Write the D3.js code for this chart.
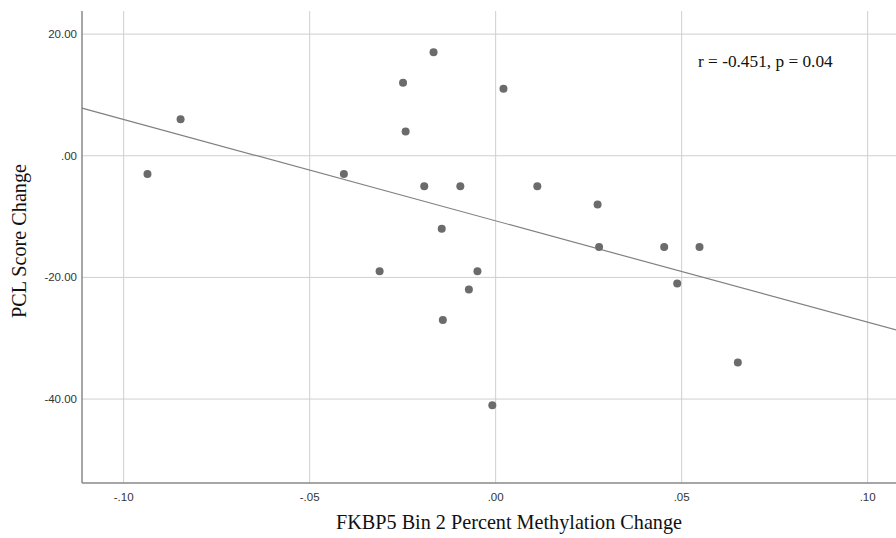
<!DOCTYPE html>
<html lang="en">
<head>
    <meta charset="UTF-8">
    <title>FKBP5 Bin 2 vs PCL Score Change</title>
    <script src="https://cdnjs.cloudflare.com/ajax/libs/d3/7.8.5/d3.min.js"></script>
    <style>
        body {
            margin: 0;
            padding: 0;
            background-color: #fff;
        }
        .tick-label {
            font-family: "Liberation Sans", Arial, sans-serif;
            font-size: 11.5px;
            fill: #333;
        }
        .axis-title {
            font-family: "Liberation Serif", "Times New Roman", serif;
            font-size: 20.2px;
            fill: #111;
        }
        .stat-label {
            font-family: "Liberation Serif", "Times New Roman", serif;
            font-size: 17.3px;
            fill: #111;
        }
    </style>
</head>
<body>
    <div id="chart"></div>

    <script>
        // Data
        const methylationChange = [
            -0.0936, -0.0847, -0.0408, -0.0312, -0.0249, -0.0242, -0.0192, -0.0167,
            -0.0145, -0.0142, -0.0095, -0.0072, -0.0049, -0.0009, 0.0021, 0.0112,
            0.0274, 0.0278, 0.0453, 0.0488, 0.0548, 0.0651
        ];
        const pclChange = [
            -3, 6, -3, -19, 12, 4, -5, 17,
            -12, -27, -5, -22, -19, -41, 11, -5,
            -8, -15, -15, -21, -15, -34
        ];
        const xTicks = [-0.10, -0.05, 0.00, 0.05, 0.10];
        const yTicks = [20, 0, -20, -40];
        // Fit line (intercept, slope) as drawn
        const fitIntercept = -10.7;
        const fitSlope = -166.7;
        const statText = "r = -0.451, p = 0.04";

        const width = 896;
        const height = 538;
        const plotLeft = 82, plotTop = 11, plotBottom = 483;

        const x = d3.scaleLinear().domain([-0.1112, 0.111]).range([plotLeft, plotLeft + 0.2222 * 3720]);
        const y = d3.scaleLinear().domain([-53.8, 23.8]).range([plotBottom, plotTop]);

        const svg = d3.select("#chart")
            .append("svg")
            .attr("width", width)
            .attr("height", height);

        // SPSS style: plain hyphen, no leading zero
        const locale = d3.formatLocale({decimal: ".", thousands: ",", grouping: [3], currency: ["", ""], minus: "-"});
        const fmt = v => locale.format(".2f")(v).replace(/^(-?)0\./, "$1.");

        // Grid lines
        svg.append("g").selectAll("line")
            .data(xTicks)
            .enter().append("line")
            .attr("x1", d => x(d)).attr("x2", d => x(d))
            .attr("y1", plotTop).attr("y2", plotBottom)
            .attr("stroke", "#cfcfcf")
            .attr("stroke-width", 1);

        svg.append("g").selectAll("line")
            .data(yTicks)
            .enter().append("line")
            .attr("x1", plotLeft).attr("x2", width)
            .attr("y1", d => y(d)).attr("y2", d => y(d))
            .attr("stroke", "#cfcfcf")
            .attr("stroke-width", 1);

        // Axis lines
        svg.append("line")
            .attr("x1", plotLeft).attr("x2", plotLeft)
            .attr("y1", plotTop).attr("y2", plotBottom)
            .attr("stroke", "#888").attr("stroke-width", 1.5);
        svg.append("line")
            .attr("x1", plotLeft).attr("x2", width)
            .attr("y1", plotBottom).attr("y2", plotBottom)
            .attr("stroke", "#888").attr("stroke-width", 1.5);

        // Tick labels
        svg.append("g").selectAll("text")
            .data(xTicks)
            .enter().append("text")
            .attr("class", "tick-label")
            .attr("x", d => x(d))
            .attr("y", plotBottom + 18)
            .attr("text-anchor", "middle")
            .text(fmt);

        svg.append("g").selectAll("text")
            .data(yTicks)
            .enter().append("text")
            .attr("class", "tick-label")
            .attr("x", plotLeft - 5)
            .attr("y", d => y(d))
            .attr("dy", "0.35em")
            .attr("text-anchor", "end")
            .text(fmt);

        // Fit line
        const fx = x.domain();
        svg.append("line")
            .attr("x1", x(fx[0])).attr("y1", y(fitIntercept + fitSlope * fx[0]))
            .attr("x2", x(fx[1])).attr("y2", y(fitIntercept + fitSlope * fx[1]))
            .attr("stroke", "#808080")
            .attr("stroke-width", 1.2);

        // Points
        svg.append("g").selectAll("circle")
            .data(methylationChange.map((v, i) => [v, pclChange[i]]))
            .enter().append("circle")
            .attr("cx", d => x(d[0]))
            .attr("cy", d => y(d[1]))
            .attr("r", 4)
            .attr("fill", "#6b6b6b");

        // Annotation
        svg.append("text")
            .attr("class", "stat-label")
            .attr("x", 698)
            .attr("y", 67)
            .text(statText);

        // Axis titles
        svg.append("text")
            .attr("class", "axis-title")
            .attr("x", 509)
            .attr("y", 529)
            .attr("text-anchor", "middle")
            .text("FKBP5 Bin 2 Percent Methylation Change");

        svg.append("text")
            .attr("class", "axis-title")
            .attr("transform", `translate(26,${(plotTop + plotBottom) / 2 - 6}) rotate(-90)`)
            .attr("text-anchor", "middle")
            .text("PCL Score Change");
    </script>
</body>
</html>
